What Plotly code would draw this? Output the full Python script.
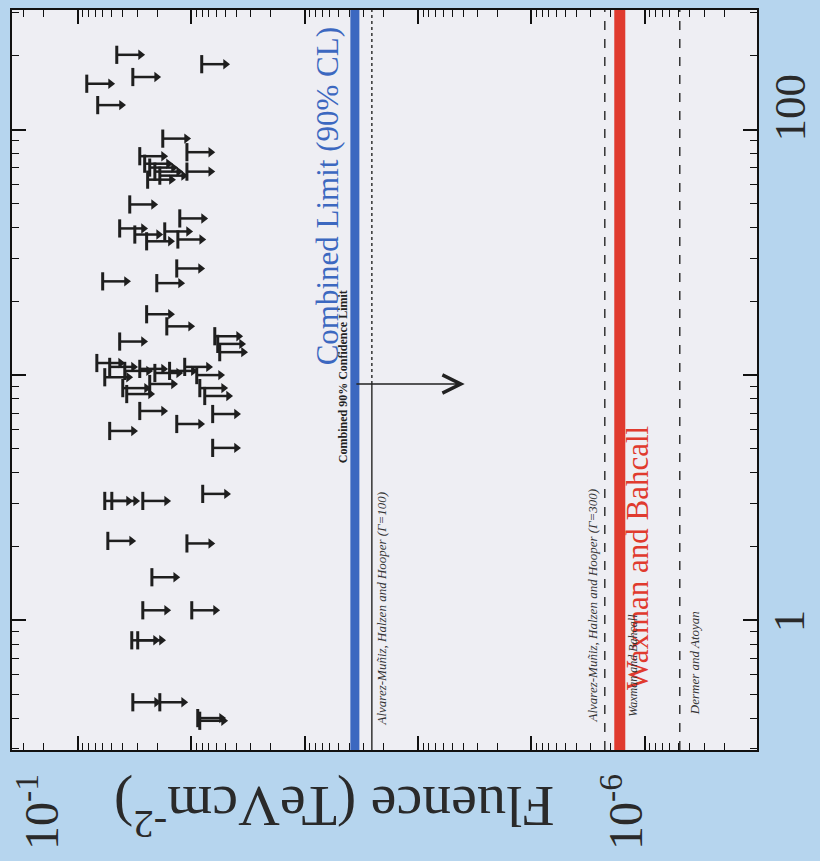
import numpy as np
import plotly.graph_objects as go

# ---- data ----
# upper limits on fluence (TeV cm^-2) for individual bursts, and the burst parameter (vertical axis)
grb_fluence_ul = [8.07e-3, 4.53e-2, 3.27e-2, 8.33e-2, 6.67e-2, 1.78e-2, 1.09e-2, 2.84e-2,
                  2.57e-2, 2.32e-2, 2.09e-2, 1.89e-2, 2.42e-2, 1.09e-2, 3.48e-2, 1.26e-2,
                  4.27e-2, 3.14e-2, 2.47e-2, 1.71e-2, 1.31e-2, 1.34e-2, 6.03e-2, 2.01e-2,
                  2.47e-2, 1.64e-2, 6.19e-3, 5.83e-3, 5.60e-3, 4.27e-2,
                  6.79e-2, 5.23e-2, 3.85e-2, 2.84e-2, 2.09e-2, 1.55e-2, 1.14e-2, 8.93e-3, 5.78e-2,
                  4.01e-2, 8.39e-3, 2.32e-2, 3.70e-2, 7.59e-3, 2.84e-2, 6.46e-3, 1.34e-2, 5.23e-2,
                  6.46e-3, 7.91e-3, 5.78e-2, 5.01e-2, 2.67e-2, 5.43e-2, 1.09e-2, 2.22e-2,
                  2.67e-2, 9.88e-3, 3.34e-2, 2.96e-2, 3.27e-2, 1.89e-2, 8.75e-3, 8.40e-3]
grb_param = [185, 202, 164, 154, 126, 92, 81, 78,
             72.7, 70.1, 67.5, 65.0, 62.6, 67.5, 49.6, 43.5,
             39.6, 37.4, 35.1, 38.5, 35.7, 27.2, 24.1, 23.7,
             17.7, 15.8, 14.4, 13.4, 12.4, 13.7,
             11.2, 10.8, 10.4, 10.6, 10.2, 10.4, 10.8, 10.0, 9.8,
             8.85, 8.85, 9.2, 8.37, 8.22, 7.14, 6.94, 6.32, 5.92,
             5.05, 3.28, 3.07, 3.07, 3.07, 2.11, 2.06, 1.50,
             1.10, 1.10, 0.83, 0.83, 0.464, 0.464, 0.40, 0.39]

combined_limit = 3.6e-4          # thick blue line
combined_90cl_line = 2.55e-4     # thin black line (original plot)
combined_arrow_to = 3.87e-5
combined_arrow_at = 9.2
waxman_bahcall = 1.66e-6         # thick red line
amh_gamma300 = 2.25e-6           # dashed
dermer_atoyan = 4.91e-7          # dashed

x_range_log = [-0.42, -6.99]
y_range_log = [-0.528, 2.488]
y_lo, y_hi = 10 ** y_range_log[0], 10 ** y_range_log[1]

ARROW_SHAFT = 10 ** -0.20
ARROW_HEAD = 10 ** -0.21

SERIF = "Liberation Serif, Times New Roman, serif"
INK = "#1e1e1e"

fig = go.Figure()

# arrows (shafts)
sx, sy = [], []
for f, t in zip(grb_fluence_ul, grb_param):
    sx += [f, f * ARROW_SHAFT, None]
    sy += [t, t, None]
fig.add_trace(go.Scatter(x=sx, y=sy, mode="lines", line=dict(color=INK, width=2.5),
                         hoverinfo="skip", showlegend=False))
# bars at the limit
fig.add_trace(go.Scatter(x=grb_fluence_ul, y=grb_param, mode="markers",
                         marker=dict(symbol="line-ns", size=13, line=dict(color=INK, width=3)),
                         showlegend=False))
# arrow heads
fig.add_trace(go.Scatter(x=[f * ARROW_HEAD for f in grb_fluence_ul], y=grb_param, mode="markers",
                         marker=dict(symbol="triangle-right", size=9, color=INK),
                         showlegend=False))

# model / limit lines
fig.add_trace(go.Scatter(x=[combined_90cl_line] * 2, y=[combined_arrow_at, y_hi], mode="lines",
                         line=dict(color="#333", width=1.5, dash="dot"), showlegend=False))
fig.add_trace(go.Scatter(x=[combined_90cl_line] * 2, y=[y_lo, combined_arrow_at], mode="lines",
                         line=dict(color="#333", width=1.5), showlegend=False))
fig.add_trace(go.Scatter(x=[amh_gamma300] * 2, y=[y_lo, y_hi], mode="lines",
                         line=dict(color="#333", width=1.5, dash="dash"), showlegend=False))
fig.add_trace(go.Scatter(x=[dermer_atoyan] * 2, y=[y_lo, y_hi], mode="lines",
                         line=dict(color="#333", width=1.5, dash="dash"), showlegend=False))
fig.add_trace(go.Scatter(x=[combined_limit] * 2, y=[y_lo, y_hi], mode="lines",
                         line=dict(color="#3c68c0", width=9), showlegend=False))
fig.add_trace(go.Scatter(x=[waxman_bahcall] * 2, y=[y_lo, y_hi], mode="lines",
                         line=dict(color="#e03a2e", width=11), showlegend=False))

L = np.log10
C = dict(xanchor="center", yanchor="middle", showarrow=False)
ann = []
# big arrow from the combined limit
ann.append(dict(x=L(combined_arrow_to), y=L(combined_arrow_at), ax=L(combined_limit), ay=L(combined_arrow_at),
                xref="x", yref="y", axref="x", ayref="y", showarrow=True, arrowhead=5,
                arrowsize=2.4, arrowwidth=1.5, arrowcolor="#222", text=""))
# labels
ann.append(dict(x=L(combined_limit), y=0.748, xref="x", yref="paper", xshift=-27,
                text="Combined Limit (90% CL)", textangle=-90, **C,
                font=dict(family=SERIF, size=31, color="#3c68c0")))
ann.append(dict(x=L(waxman_bahcall), y=0.259, xref="x", yref="paper", xshift=18,
                text="Waxman and Bahcall", textangle=-90, **C,
                font=dict(family=SERIF, size=31, color="#e03a2e")))
ann.append(dict(x=L(combined_limit), y=0.505, xref="x", yref="paper", xshift=-12,
                text="<b>Combined 90% Confidence Limit</b>", textangle=-90, **C,
                font=dict(family=SERIF, size=12, color="#222")))
ann.append(dict(x=L(combined_90cl_line), y=0.191, xref="x", yref="paper", xshift=10,
                text="<i>Alvarez-Muñiz, Halzen and Hooper (Γ=100)</i>", textangle=-90, **C,
                font=dict(family=SERIF, size=13, color="#333")))
ann.append(dict(x=L(amh_gamma300), y=0.195, xref="x", yref="paper", xshift=-12,
                text="<i>Alvarez-Muñiz, Halzen and Hooper (Γ=300)</i>", textangle=-90, **C,
                font=dict(family=SERIF, size=13, color="#333")))
ann.append(dict(x=L(waxman_bahcall), y=0.115, xref="x", yref="paper", xshift=13,
                text="<i>Waxman and Bahcall</i>", textangle=-90, **C,
                font=dict(family=SERIF, size=12, color="#333")))
ann.append(dict(x=L(dermer_atoyan), y=0.117, xref="x", yref="paper", xshift=15,
                text="<i>Dermer and Atoyan</i>", textangle=-90, **C,
                font=dict(family=SERIF, size=13, color="#333")))
# axis texts
ann.append(dict(x=-0.647, y=-0.084, xref="x", yref="paper", text="10<sup>-1</sup>", textangle=-90,
                **C, font=dict(family=SERIF, size=48, color="#2a2a2a")))
ann.append(dict(x=-5.797, y=-0.084, xref="x", yref="paper", text="10<sup>-6</sup>", textangle=-90,
                **C, font=dict(family=SERIF, size=48, color="#2a2a2a")))
ann.append(dict(x=-3.266, y=-0.082, xref="x", yref="paper", text="Fluence (TeVcm<sup>-2</sup>)",
                textangle=180, **C, font=dict(family=SERIF, size=58, color="#2a2a2a")))
ann.append(dict(x=1.044, y=0, xref="paper", yref="y", text="1", textangle=-90,
                **C, font=dict(family=SERIF, size=45, color="#2a2a2a")))
ann.append(dict(x=1.044, y=2, xref="paper", yref="y", yshift=22, text="100", textangle=-90,
                **C, font=dict(family=SERIF, size=45, color="#2a2a2a")))

axis_common = dict(type="log", showgrid=False, zeroline=False, showline=True, linecolor="#111",
                   linewidth=2, mirror="ticks", ticks="inside", ticklen=14, tickwidth=1.5,
                   tickcolor="#111", dtick=1, showticklabels=False,
                   minor=dict(ticks="inside", ticklen=7, tickwidth=1.2, tickcolor="#111", showgrid=False))

fig.update_layout(
    width=820, height=861,
    margin=dict(l=12, r=63, t=8, b=111),
    paper_bgcolor="#b6d5ee",
    plot_bgcolor="#eeeef3",
    xaxis=dict(range=x_range_log, **axis_common),
    yaxis=dict(range=y_range_log, **axis_common),
    annotations=ann,
    showlegend=False,
)

fig.write_html("out.html")
